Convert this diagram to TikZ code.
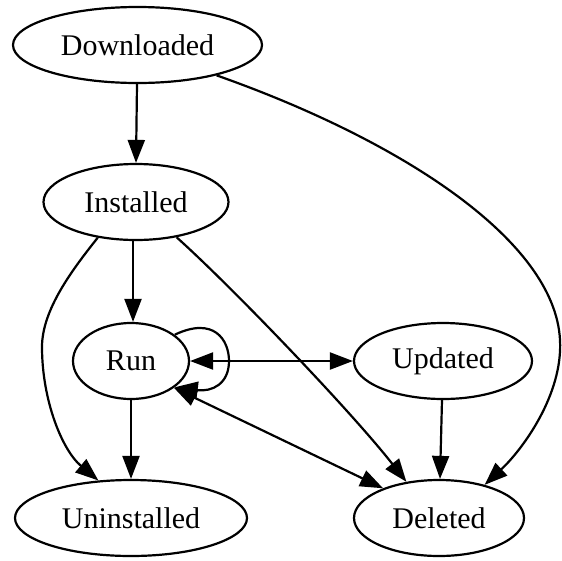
\documentclass[tikz,border=0pt]{standalone}
\usepackage{fontspec}
\setmainfont{Liberation Serif}
\usetikzlibrary{shapes.geometric,arrows.meta}
\begin{document}
\begin{tikzpicture}[x=1pt,y=-1pt,
  state/.style={ellipse,draw,line width=2.2pt,inner sep=0pt,minimum height=76pt,
    font=\fontsize{30}{36}\selectfont},
  tip/.tip={Triangle[length=23pt,width=17pt]},
  edge/.style={line width=2.2pt,-tip},
  twoway/.style={line width=2.2pt,tip-tip}]
\useasboundingbox (0,0) rectangle (562,560);

% states
\node[state,minimum width=249pt] (dl)   at (137.5,45) {Downloaded};
\node[state,minimum width=185pt] (inst) at (136,202)  {Installed};
\node[state,minimum width=116pt] (run)  at (131,361)  {Run};
\node[state,minimum width=178pt] (upd)  at (443,361)  {Updated};
\node[state,minimum width=232pt] (unin) at (131,518)  {Uninstalled};
\node[state,minimum width=170pt] (del)  at (439,518)  {Deleted};

% transitions
\draw[edge] ([xshift=-0.5pt]dl.south) -- (inst.north);
\draw[edge] (dl.-21) .. controls (400,140) and (555,240) .. (560,340)
            .. controls (563,395) and (522,450) .. (del.36);
\draw[edge] ([xshift=-3pt]inst.south) -- ([xshift=2pt]run.north);
\draw[edge] (inst.-137) .. controls (72,270) and (42,310) .. (42,347)
            .. controls (42,400) and (62,450) .. (unin.131);
\draw[edge] (inst.-41) .. controls (230,285) and (350,410) .. (del.132);
\draw[edge] (run.31) .. controls (214,316) and (229,340) .. (229,361)
            .. controls (229,384) and (212,392) .. (run.-31);
\draw[twoway] (run.east) -- (upd.west);
\draw[edge] (run.south) -- (unin.north);
\draw[twoway] (run.-32) -- (del.152);
\draw[edge] ([xshift=-1pt]upd.south) -- ([xshift=1pt]del.north);
\end{tikzpicture}
\end{document}
